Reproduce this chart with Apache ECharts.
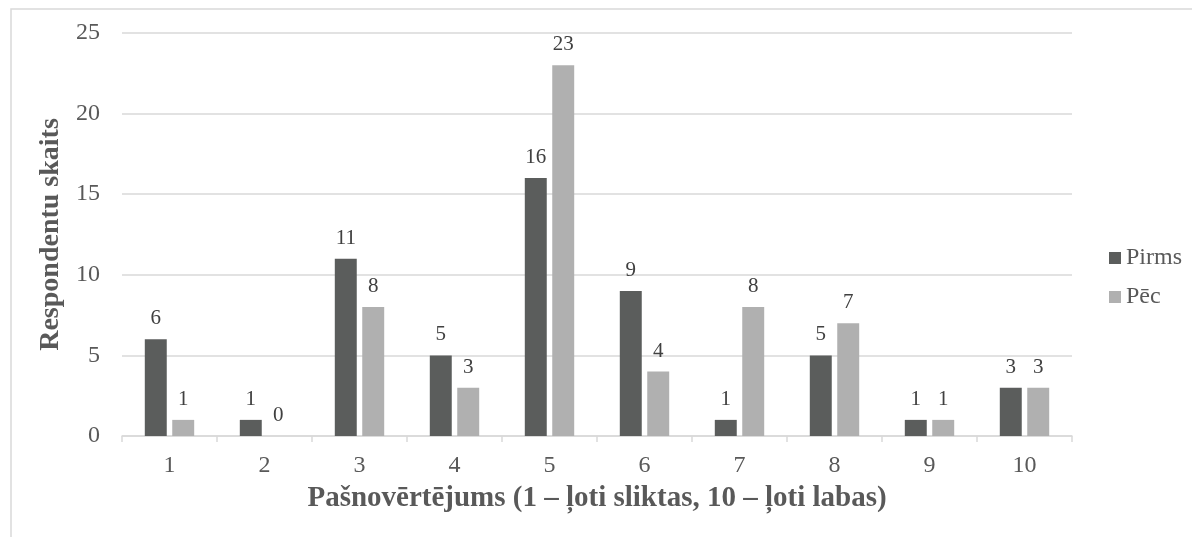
<!DOCTYPE html>
<html><head><meta charset="utf-8">
<script src="https://cdn.jsdelivr.net/npm/echarts@6/dist/echarts.min.js"></script>
<style>html,body{margin:0;padding:0;background:#fff}#c{width:1192px;height:537px}</style>
</head><body><div id="c"></div>
<script>
const categories = ['1','2','3','4','5','6','7','8','9','10'];
const pirms = [6,1,11,5,16,9,1,5,1,3];
const pec = [1,0,8,3,23,4,8,7,1,3];
const seriesNames = ['Pirms','Pēc'];
const xTitle = 'Pašnovērtējums (1 – ļoti sliktas, 10 – ļoti labas)';
const yTitle = 'Respondentu skaits';

const font = '"Liberation Serif", "Times New Roman", serif';
const txt = '#595959';
const chart = echarts.init(document.getElementById('c'), null, {renderer:'canvas'});
const lbl = {show:true, position:'top', distance:10, color:'#404040', fontFamily:font, fontSize:21};
chart.setOption({
  animation:false,
  backgroundColor:'#fff',
  textStyle:{fontFamily:font},
  graphic:[{type:'rect', shape:{x:11,y:9,width:1200,height:600}, style:{fill:'none', stroke:'#d9d9d9', lineWidth:1.5}, silent:true}],
  grid:{left:122, right:120, top:33, bottom:101},
  legend:{orient:'vertical', left:1104, top:241, itemWidth:12, itemHeight:12, itemGap:15,
    icon:'rect', textStyle:{color:txt, fontFamily:font, fontSize:24}, data:seriesNames},
  xAxis:{type:'category', data:categories,
    name:xTitle, nameLocation:'middle', nameGap:48,
    nameTextStyle:{color:txt, fontFamily:font, fontSize:29, fontWeight:'bold'},
    axisLine:{lineStyle:{color:'#d9d9d9', width:1.5}},
    axisTick:{show:true, length:6, lineStyle:{color:'#d9d9d9', width:1.5}},
    axisLabel:{color:txt, fontFamily:font, fontSize:24, margin:18}},
  yAxis:{type:'value', min:0, max:25, interval:5,
    name:yTitle, nameLocation:'middle', nameGap:53,
    nameTextStyle:{color:txt, fontFamily:font, fontSize:28, fontWeight:'bold'},
    axisLine:{show:false}, axisTick:{show:false},
    splitLine:{lineStyle:{color:'#d9d9d9', width:1.5}},
    axisLabel:{color:txt, fontFamily:font, fontSize:24, margin:22}},
  series:[
    {name:seriesNames[0], type:'bar', data:pirms, itemStyle:{color:'#5b5d5c'}, barGap:'25%', barCategoryGap:'48%', label:lbl},
    {name:seriesNames[1], type:'bar', data:pec, itemStyle:{color:'#b0b0b0'}, label:lbl}
  ]
});
</script></body></html>
